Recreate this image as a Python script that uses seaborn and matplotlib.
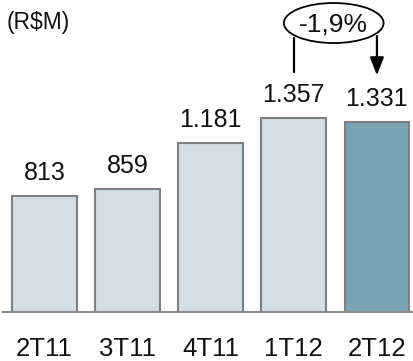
import matplotlib
matplotlib.use("Agg")
import matplotlib.pyplot as plt
from matplotlib.patches import Ellipse
import seaborn as sns
import pandas as pd

# Quarterly values (R$ million)
quarters = ["2T11", "3T11", "4T11", "1T12", "2T12"]
values = [813, 859, 1181, 1357, 1331]
value_labels = ["813", "859", "1.181", "1.357", "1.331"]
bar_colors = ["#D3DFE5", "#D3DFE5", "#D3DFE5", "#D3DFE5", "#7AA3B3"]
change_label = "-1,9%"
unit_label = "(R$M)"

sns.set_theme(style="white")
plt.rcParams["font.family"] = ["Liberation Sans", "DejaVu Sans"]

df = pd.DataFrame({"quarter": quarters, "value": values})

fig = plt.figure(figsize=(4.13, 3.61), dpi=100)
ax = fig.add_axes([3 / 413, 49 / 361, 410 / 413, 312 / 361])

sns.barplot(data=df, x="quarter", y="value", hue="quarter",
            palette=bar_colors, width=0.78, edgecolor="#808080",
            linewidth=1.5, saturation=1, legend=False, ax=ax)

ax.set_xlim(-0.5, 4.434)
ax.set_ylim(0, 2182)

for container, lab in zip(ax.containers, value_labels):
    ax.bar_label(container, labels=[lab], padding=8, fontsize=18, color="#111111")

sns.despine(ax=ax, left=True, top=True, right=True)
ax.spines["bottom"].set_color("#8c8c8c")
ax.spines["bottom"].set_linewidth(1.5)
ax.set_yticks([])
ax.set_xlabel("")
ax.set_ylabel("")
ax.tick_params(axis="x", length=0, pad=18, labelsize=18.5, labelcolor="#111111")

# change callout between the last two quarters
ell_x, ell_y = 3.48, 2021
ax.add_patch(Ellipse((ell_x, ell_y), 1.2, 280, fill=False,
                     edgecolor="black", linewidth=1.3, clip_on=False))
ax.text(ell_x, ell_y - 10, change_label, ha="center", va="center",
        fontsize=19, color="#111111")
ax.plot([3, 3], [1678, 1918], color="black", linewidth=1.6, clip_on=False)
ax.annotate("", xy=(4, 1655), xytext=(4, 1930),
            arrowprops=dict(arrowstyle="-|>,head_length=0.9,head_width=0.35",
                            color="black", linewidth=1.6, shrinkA=0, shrinkB=0))

fig.text(7 / 413, 1 - 23 / 361, unit_label, ha="left", va="center",
         fontsize=16.5, color="#111111")

fig.savefig("out.png", dpi=100)
